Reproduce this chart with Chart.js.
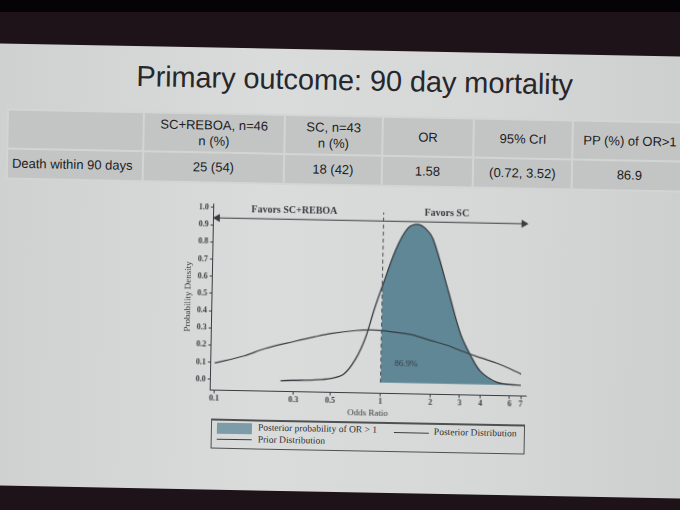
<!DOCTYPE html>
<html>
<head>
<meta charset="utf-8">
<script src="https://cdn.jsdelivr.net/npm/chart.js@4"></script>
<style>
  html, body { margin: 0; padding: 0; }
  body {
    width: 680px; height: 510px; overflow: hidden; position: relative;
    background: linear-gradient(#050305 0, #050305 12px, #1d1318 12px, #1d1318 100%);
    font-family: "Liberation Sans", Arial, sans-serif;
  }
  #stage {
    position: absolute; left: 0; top: 0; width: 680px; height: 510px;
    transform: rotate(1.1deg); transform-origin: 340px 270px;
  }
  #slide {
    position: absolute; left: -30px; top: 50px; width: 740px; height: 442px;
    background: linear-gradient(90deg, #cdd0cf 0%, #dadcdb 40%, #d6d8d7 70%, #cbcecd 100%);
  }
  #title {
    position: absolute; left: 0; width: 702px; top: 64px; text-align: center;
    font-size: 29px; color: #26262b; letter-spacing: -0.1px;
  }
  table {
    position: absolute; left: 4px; top: 115px; border-collapse: collapse;
    table-layout: fixed; width: 680px;
    font-size: 13px; color: #1c1c1e;
  }
  td {
    background: #c3c5c4; border: 2px solid #d3d5d4; text-align: center;
    padding: 0; line-height: 16px; white-space: nowrap;
  }
  tr.head td { height: 37px; }
  tr.row td { height: 28px; }
  td.lab { text-align: left; padding-left: 4px; }
  #chartBox { position: absolute; left: 160px; top: 198px; width: 380px; height: 220px; }
  #legend {
    position: absolute; left: 214px; top: 421px; width: 312px; height: 27px;
    border: 1.5px solid #4e5052; border-top-width: 2.5px;
    font-family: "Liberation Serif", serif; font-size: 9.5px; color: #2c2e31;
  }
  #legend .sw { position: absolute; left: 5px; top: 2px; width: 35px; height: 11px; background: #7c9ca7; }
  #legend .ln { position: absolute; height: 0; border-top: 1px solid #3b3e42; width: 35px; }
  #legend .tx { position: absolute; white-space: nowrap; }
</style>
</head>
<body>
<div id="stage">
  <div id="slide"></div>
  <div id="title">Primary outcome: 90 day mortality</div>
  <table>
    <colgroup>
      <col style="width:136px"><col style="width:141px"><col style="width:98px">
      <col style="width:91px"><col style="width:99px"><col style="width:115px">
    </colgroup>
    <tr class="head">
      <td></td>
      <td>SC+REBOA, n=46<br>n (%)</td>
      <td>SC, n=43<br>n (%)</td>
      <td>OR</td>
      <td>95% CrI</td>
      <td>PP (%) of OR&gt;1</td>
    </tr>
    <tr class="row">
      <td class="lab">Death within 90 days</td>
      <td>25 (54)</td>
      <td>18 (42)</td>
      <td>1.58</td>
      <td>(0.72, 3.52)</td>
      <td>86.9</td>
    </tr>
  </table>
  <div id="chartBox"><canvas id="chart"></canvas></div>
  <div id="legend">
    <div class="sw"></div>
    <div class="tx" style="left:46px;top:1px">Posterior probability of OR &gt; 1</div>
    <div class="ln" style="left:182px;top:8px"></div>
    <div class="tx" style="left:222px;top:2px">Posterior Distribution</div>
    <div class="ln" style="left:5px;top:18px"></div>
    <div class="tx" style="left:46px;top:13px">Prior Distribution</div>
  </div>
</div>

<script>
// values
const priorOR = [0.1, 0.15, 0.2, 0.3, 0.4, 0.5, 0.7, 0.85, 1, 1.2, 1.5, 2, 2.5, 3, 4, 5, 6, 7];
const priorDensity = [0.095, 0.14, 0.185, 0.23, 0.26, 0.28, 0.30, 0.305, 0.303, 0.295, 0.283, 0.25, 0.224, 0.195, 0.155, 0.125, 0.095, 0.065];

const postOR = [0.25, 0.3, 0.4, 0.5, 0.6, 0.7, 0.8, 0.9, 1, 1.2, 1.4, 1.6, 1.8, 2, 2.5, 3, 3.5, 4, 5, 6, 7];
const postDensity = [0.0, 0.003, 0.008, 0.018, 0.045, 0.13, 0.255, 0.425, 0.56, 0.78, 0.9, 0.925, 0.9, 0.84, 0.54, 0.29, 0.16, 0.075, 0.015, 0.003, 0.0];

const xTicks = [0.1, 0.3, 0.5, 1, 2, 3, 4, 6, 7];
const yTicks = [0, 0.1, 0.2, 0.3, 0.4, 0.5, 0.6, 0.7, 0.8, 0.9, 1.0];

const nullOR = 1;
const ppLabel = '86.9%';

const ink = '#383b40';
const teal = '#5f8796';

const toPoints = (xs, ys) => xs.map((x, i) => ({ x: x, y: ys[i] }));
const priorPts = toPoints(priorOR, priorDensity);
const postPts = toPoints(postOR, postDensity);
const shadedPts = postPts.filter(p => p.x >= nullOR);

// text written in data coordinates
const notes = [
  { text: 'Favors SC+REBOA', x: 0.29, y: 0.99, font: 'bold 10px "Liberation Serif"' },
  { text: 'Favors SC', x: 2.4, y: 0.99, font: 'bold 10px "Liberation Serif"' },
  { text: ppLabel, x: 1.42, y: 0.11, font: '9px "Liberation Serif"' }
];

const notesPlugin = {
  id: 'notes',
  afterDatasetsDraw(chart) {
    const c = chart.ctx;
    const xs = chart.scales.x, ys = chart.scales.y;
    c.save();
    c.fillStyle = ink;
    c.textAlign = 'center';
    c.textBaseline = 'middle';
    notes.forEach(n => {
      c.font = n.font;
      c.fillText(n.text, xs.getPixelForValue(n.x), ys.getPixelForValue(n.y));
    });
    c.restore();
  }
};

new Chart(document.getElementById('chart'), {
  type: 'line',
  data: {
    datasets: [
      {
        label: 'Posterior probability of OR > 1',
        data: shadedPts,
        borderWidth: 0,
        pointRadius: 0,
        backgroundColor: teal,
        fill: 'origin',
        tension: 0.35,
        order: 3
      },
      {
        label: 'Posterior Distribution',
        data: postPts,
        borderColor: ink,
        borderWidth: 1.3,
        pointRadius: 0,
        fill: false,
        tension: 0.35,
        order: 2
      },
      {
        label: 'Prior Distribution',
        data: priorPts,
        borderColor: ink,
        borderWidth: 1.2,
        pointRadius: 0,
        fill: false,
        tension: 0.35,
        order: 2
      },
      {
        label: 'null',
        data: [{ x: nullOR, y: 0 }, { x: nullOR, y: 0.99 }],
        borderColor: '#4a4e53',
        borderWidth: 1,
        borderDash: [4, 3],
        pointRadius: 0,
        fill: false,
        order: 1
      },
      {
        label: 'arrow',
        data: [{ x: 0.1, y: 0.94 }, { x: 7, y: 0.94 }],
        borderColor: ink,
        backgroundColor: ink,
        borderWidth: 1.2,
        pointStyle: 'triangle',
        pointRadius: 3.5,
        pointRotation: [-90, 90],
        fill: false,
        order: 1
      }
    ]
  },
  options: {
    responsive: true,
    maintainAspectRatio: false,
    animation: false,
    layout: { padding: { left: 21, right: 12, top: 8, bottom: 0 } },
    plugins: { legend: { display: false }, tooltip: { enabled: false } },
    scales: {
      x: {
        type: 'logarithmic',
        min: 0.095,
        max: 7.5,
        afterBuildTicks: (axis) => { axis.ticks = xTicks.map(v => ({ value: v })); },
        ticks: {
          autoSkip: false,
          maxRotation: 0,
          color: ink,
          padding: 1,
          font: { family: 'Liberation Serif', size: 8, weight: 'bold' },
          callback: (v) => String(v)
        },
        grid: { drawOnChartArea: false, drawTicks: true, tickLength: 3, color: ink },
        border: { color: ink, width: 1 },
        title: {
          display: true, text: 'Odds Ratio', color: ink, padding: 0,
          font: { family: 'Liberation Serif', size: 9 }
        }
      },
      y: {
        min: -0.063,
        max: 1.023,
        afterBuildTicks: (axis) => { axis.ticks = yTicks.map(v => ({ value: v })); },
        ticks: {
          color: ink,
          padding: 2,
          font: { family: 'Liberation Serif', size: 8, weight: 'bold' },
          callback: (v) => v.toFixed(1)
        },
        grid: { drawOnChartArea: false, drawTicks: true, tickLength: 3, color: ink },
        border: { color: ink, width: 1 },
        title: {
          display: true, text: 'Probability Density', color: ink, padding: 2,
          font: { family: 'Liberation Serif', size: 9 }
        }
      }
    }
  },
  plugins: [notesPlugin]
});
</script>
</body>
</html>
